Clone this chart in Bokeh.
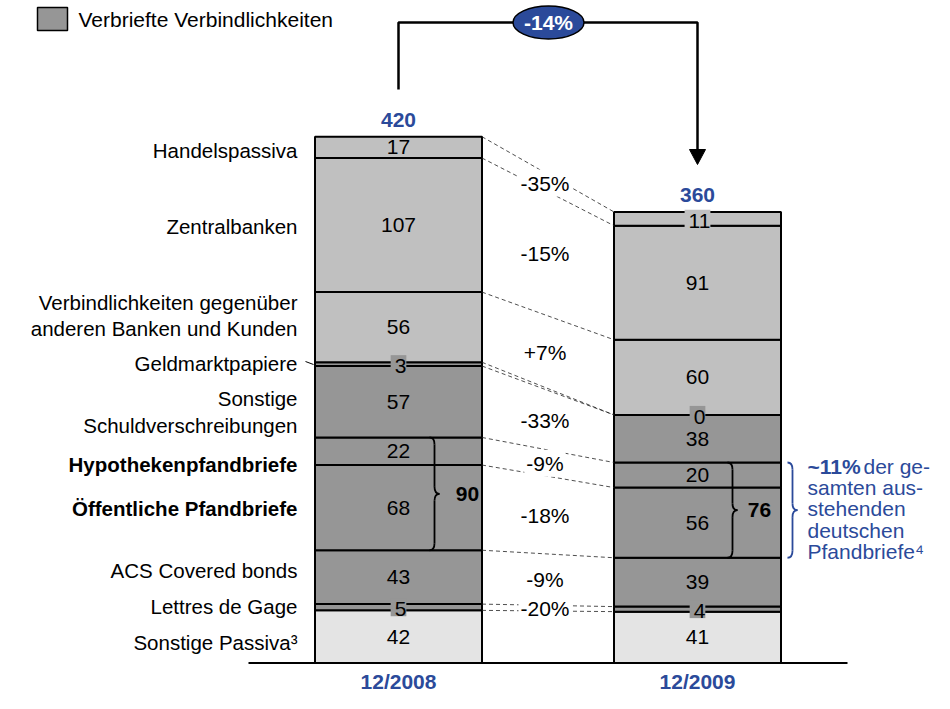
from bokeh.plotting import figure
from bokeh.models import Range1d
from bokeh.embed import file_html
from bokeh.resources import INLINE
from bokeh.core.properties import value

# ---------------- data ----------------
years = ["12/2008", "12/2009"]
segments = ["Sonstige Passiva", "Lettres de Gage", "ACS Covered bonds",
            "Öffentliche Pfandbriefe", "Hypothekenpfandbriefe",
            "Sonstige Schuldverschreibungen", "Geldmarktpapiere",
            "Verbindlichkeiten gegenüber anderen Banken und Kunden",
            "Zentralbanken", "Handelspassiva"]
seg_kind = ["other", "sec", "sec", "sec", "sec", "sec", "sec", "nonsec", "nonsec", "nonsec"]
v2008 = [42, 5, 43, 68, 22, 57, 3, 56, 107, 17]
v2009 = [41, 4, 39, 56, 20, 38, 0, 60, 91, 11]
totals = [420, 360]
change_labels = ["", "-20%", "-9%", "-18%", "-9%", "-33%", "", "+7%", "-15%", "-35%"]
pfandbrief_sum = [90, 76]
total_change = "-14%"
legend_label = "Verbriefte Verbindlichkeiten"
note_bold = "~11%"
note_lines = [" der ge-", "samten aus-", "stehenden", "deutschen", "Pfandbriefe\u2074"]

# left category labels (text, pixel y, bold)
cat_labels = [
    ("Handelspassiva", 150, False),
    ("Zentralbanken", 226, False),
    ("Verbindlichkeiten gegenüber", 302, False),
    ("anderen Banken und Kunden", 328, False),
    ("Geldmarktpapiere", 363, False),
    ("Sonstige", 398, False),
    ("Schuldverschreibungen", 425, False),
    ("Hypothekenpfandbriefe", 464, True),
    ("Öffentliche Pfandbriefe", 508, True),
    ("ACS Covered bonds", 570, False),
    ("Lettres de Gage", 606, False),
    ("Sonstige Passiva\u00b3", 642, False),
]

# ---------------- styling / layout ----------------
FONT = "Liberation Sans"
BLUE = "#2B4A9A"
COL = {"other": "#E4E4E4", "sec": "#969696", "nonsec": "#C0C0C0"}
W, H = 934, 693
Y0 = 662.5      # pixel y of value 0
PXU = 1.253     # pixels per unit
def py(Y):      # pixel y -> data y
    return (Y0 - Y) / PXU

bar_x = [398, 697]
bar_w = 167

p = figure(width=W, height=H, output_backend="svg", toolbar_location=None,
           x_range=Range1d(0, W), y_range=Range1d(py(H), py(0)),
           min_border=0, outline_line_color=None)
p.axis.visible = False
p.grid.visible = False
p.background_fill_color = "white"

def cum(vals):
    b, t, s = [], [], 0
    for v in vals:
        b.append(s); s += v; t.append(s)
    return b, t

b08, t08 = cum(v2008)
b09, t09 = cum(v2009)

# baseline
p.line([248, 847], [0, 0], line_color="black", line_width=2)

# bars
for xi, (bots, tops, vals) in enumerate([(b08, t08, v2008), (b09, t09, v2009)]):
    p.vbar(x=[bar_x[xi]] * len(vals), width=bar_w, bottom=bots, top=tops,
           fill_color=[COL[k] for k in seg_kind], line_color="black", line_width=2)

# connector dashed lines
xl = bar_x[0] + bar_w / 2
xr = bar_x[1] - bar_w / 2
xs_list, ys_list = [], []
for i in range(len(segments)):
    xs_list.append([xl, xr]); ys_list.append([t08[i], t09[i]])
p.multi_line(xs_list, ys_list, line_color="#222222", line_width=0.8, line_dash="4 3")

# percent labels (white background interrupts lines)
px_, py_, pt_ = [], [], []
for i, lab in enumerate(change_labels):
    if not lab:
        continue
    top_mid = (t08[i] + t09[i]) / 2
    bot_mid = (b08[i] + b09[i]) / 2
    px_.append((xl + xr) / 2 - 3)
    py_.append((top_mid + bot_mid) / 2)
    pt_.append(lab)
p.text(px_, py_, text=pt_, text_font=value(FONT), text_font_size="21px",
       text_align="center", text_baseline="middle", text_color="black",
       background_fill_color="white", padding=2)

# value labels inside bars
for xi, (bots, tops, vals) in enumerate([(b08, t08, v2008), (b09, t09, v2009)]):
    big_x, big_y, big_t = [], [], []
    for i, v in enumerate(vals):
        mid = (bots[i] + tops[i]) / 2
        h = v * PXU
        if h >= 18:
            big_x.append(bar_x[xi]); big_y.append(mid); big_t.append(str(v))
        else:
            p.text([bar_x[xi]], [mid], text=[str(v)], text_font=value(FONT),
                   text_font_size="21px", text_align="center", text_baseline="middle",
                   text_color="black", background_fill_color=COL[seg_kind[i]],
                   padding=[4, 0, 4, 0])
    p.text(big_x, big_y, text=big_t, text_font=value(FONT), text_font_size="21px",
           text_align="center", text_baseline="middle", text_color="black")

# totals
p.text(bar_x, [t + py(0) - py(17) for t in totals], text=[str(t) for t in totals],
       text_font=value(FONT), text_font_size="21px", text_font_style="bold",
       text_align="center", text_baseline="middle", text_color=BLUE)

# category labels
for txt, Y, bold in cat_labels:
    p.text([297], [py(Y)], text=[txt], text_font=value(FONT), text_font_size="20.5px",
           text_font_style="bold" if bold else "normal",
           text_align="right", text_baseline="middle", text_color="black")
# leader for Geldmarktpapiere
p.line([305, 313], [py(361), py(364)], line_color="black", line_width=1)

# year labels
p.text(bar_x, [py(681)] * 2, text=years, text_font=value(FONT), text_font_size="21px",
       text_font_style="bold", text_align="center", text_baseline="middle", text_color=BLUE)

# braces
def brace(x0, ytop, ybot, w, color, lw):
    r = 7 / PXU
    mid = (ytop + ybot) / 2
    xm = x0 + w / 2
    p.quadratic(x0=[x0, xm, x0, xm], y0=[ytop, mid - r, ybot, mid + r],
                x1=[xm, x0 + w, xm, x0 + w], y1=[ytop - r, mid, ybot + r, mid],
                cx=[xm, xm, xm, xm], cy=[ytop, mid, ybot, mid],
                line_color=color, line_width=lw)
    p.line([xm, xm], [ytop - r, mid + r], line_color=color, line_width=lw)
    p.line([xm, xm], [mid - r, ybot + r], line_color=color, line_width=lw)

# Pfandbrief braces: Hypothekenpfandbriefe (4) + Öffentliche Pfandbriefe (3)
brace(429, t08[4], b08[3], 10, "black", 1.8)
brace(727, t09[4], b09[3], 10, "black", 1.8)
p.text([467, 759], [(t08[4] + b08[3]) / 2, (t09[4] + b09[3]) / 2],
       text=[str(s) for s in pfandbrief_sum], text_font=value(FONT), text_font_size="21px",
       text_font_style="bold", text_align="center", text_baseline="middle", text_color="black")

# blue brace + note
brace(787, t09[4], b09[3], 10, BLUE, 1.8)
p.text([807], [py(466)], text=[note_bold], text_font=value(FONT), text_font_size="21px",
       text_font_style="bold", text_align="left", text_baseline="middle", text_color=BLUE)
p.text([863], [py(466)], text=[note_lines[0]], text_font=value(FONT), text_font_size="21px",
       text_align="left", text_baseline="middle", text_color=BLUE)
p.text([807] * 4, [py(Y) for Y in [487, 508, 530, 551]], text=note_lines[1:],
       text_font=value(FONT), text_font_size="21px", text_align="left",
       text_baseline="middle", text_color=BLUE)

# top change arrow
yb = py(22)
p.line([bar_x[0], bar_x[0], bar_x[1], bar_x[1]], [py(89), yb, yb, py(150)],
       line_color="black", line_width=2.5)
p.patch([bar_x[1] - 8, bar_x[1] + 8, bar_x[1]], [py(149), py(149), py(164)],
        fill_color="black", line_color="black")
p.ellipse([548], [yb], width=71, height=33 / PXU, fill_color=BLUE, line_color="black",
          line_width=1.5)
p.text([548], [yb], text=[total_change], text_font=value(FONT), text_font_size="21px",
       text_font_style="bold", text_align="center", text_baseline="middle", text_color="white")

# legend
p.quad(left=[37], right=[67], top=[py(7)], bottom=[py(30)], fill_color=COL["sec"],
       line_color="black", line_width=1.5)
p.text([78], [py(19)], text=[legend_label], text_font=value(FONT), text_font_size="21px",
       text_align="left", text_baseline="middle", text_color="black")

open("out.html", "w").write(file_html(p, INLINE))
